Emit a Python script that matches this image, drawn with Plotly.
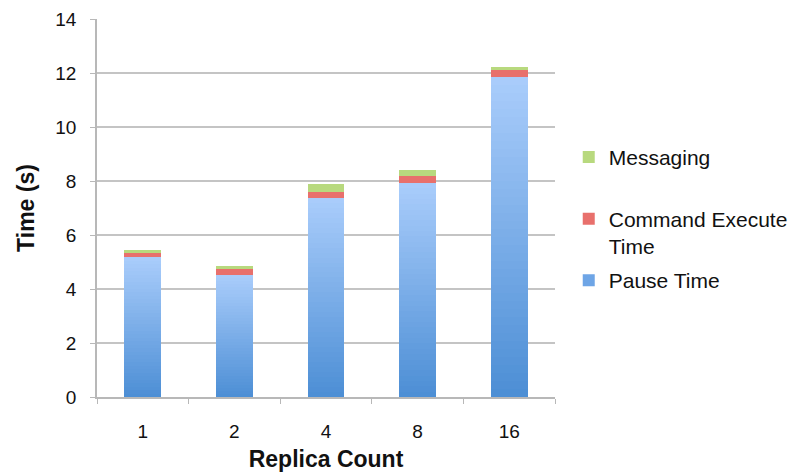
import plotly.graph_objects as go

# Replica-count benchmark: time breakdown per replica count
replicas = ["1", "2", "4", "8", "16"]
pause_time = [5.18, 4.51, 7.38, 7.93, 11.86]
command_execute = [0.18, 0.26, 0.20, 0.25, 0.24]
messaging = [0.07, 0.07, 0.31, 0.21, 0.12]

y_ticks = [0, 2, 4, 6, 8, 10, 12, 14]

FONT = "Liberation Sans, Arial, sans-serif"
BLUE_TOP = (170, 205, 251)
BLUE_BOTTOM = (76, 142, 213)
RED = "#e8706c"
GREEN = "#b8d97e"
N_SLICES = 40


def blend(t):
    r, g, b = (round(BLUE_BOTTOM[i] + (BLUE_TOP[i] - BLUE_BOTTOM[i]) * t) for i in range(3))
    return f"rgb({r},{g},{b})"


fig = go.Figure()

# Pause time drawn as a stack of thin slices to give each bar a vertical gradient
for k in range(N_SLICES):
    fig.add_trace(go.Bar(
        x=replicas,
        y=[v / N_SLICES for v in pause_time],
        marker=dict(color=blend((k + 0.5) / N_SLICES), line=dict(width=0)),
        showlegend=False,
        legendgroup="pause",
        hoverinfo="skip",
    ))

fig.add_trace(go.Bar(
    x=replicas, y=command_execute, name="Command Execute<br>Time",
    marker=dict(color=RED, line=dict(width=0)),
    legendgroup="cmd", legendrank=2,
))
fig.add_trace(go.Bar(
    x=replicas, y=messaging, name="Messaging<br>\u00a0",
    marker=dict(color=GREEN, line=dict(width=0)),
    legendgroup="msg", legendrank=1,
))

# Legend entry for pause time
fig.add_trace(go.Bar(
    x=[None], y=[None], name="Pause Time",
    marker=dict(color="rgb(110,165,230)", line=dict(width=0)),
    legendgroup="pause", legendrank=3,
))

fig.update_layout(
    width=792, height=472,
    margin=dict(l=97, r=237, t=19, b=75, autoexpand=False),
    paper_bgcolor="white", plot_bgcolor="white",
    barmode="stack", bargap=0.6,
    font=dict(family=FONT, size=19, color="#111"),
    showlegend=True,
    legend=dict(
        x=1.03, y=0.688, xanchor="left", yanchor="top",
        traceorder="grouped", tracegroupgap=4, valign="top",
        font=dict(family=FONT, size=21, color="#111"),
        itemwidth=30,
    ),
    xaxis=dict(
        type="category", automargin=False,
        showline=True, linecolor="#b8b8b8", linewidth=1.5,
        ticks="outside", tickson="boundaries", ticklen=5, tickcolor="#b8b8b8",
        tickfont=dict(size=19), ticklabelstandoff=16,
        title=dict(text="<b>Replica Count</b>", font=dict(size=23), standoff=13),
        showgrid=False,
    ),
    yaxis=dict(
        range=[0, 14], tickvals=y_ticks, automargin=False,
        showline=True, linecolor="#b8b8b8", linewidth=1.5,
        ticks="outside", ticklen=5, tickcolor="#b8b8b8", ticklabelstandoff=10,
        showgrid=True, gridcolor="#c4c4c4", gridwidth=1.5,
        tickfont=dict(size=19),
        title=dict(text="<b>Time (s)</b>", font=dict(size=23), standoff=14),
        zeroline=False,
    ),
)

fig.write_html("out.html")
